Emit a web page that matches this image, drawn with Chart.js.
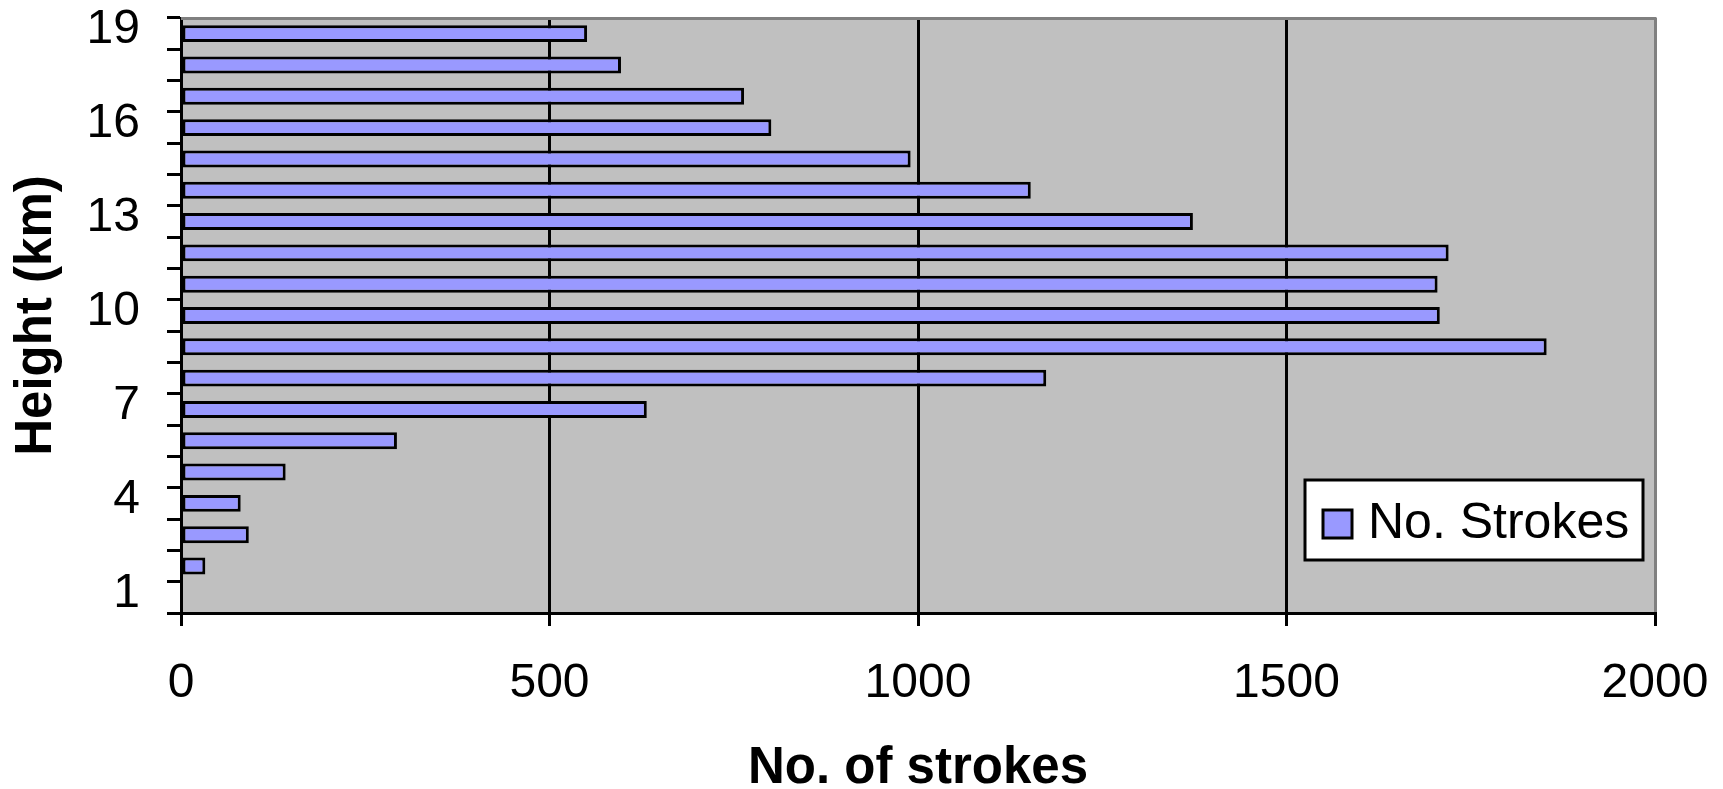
<!DOCTYPE html>
<html>
<head>
<meta charset="utf-8">
<title>Stroke heights</title>
<script src="https://cdn.jsdelivr.net/npm/chart.js@4.4.1/dist/chart.umd.min.js"></script>
<style>
  html, body { margin: 0; padding: 0; background: #ffffff; }
  #wrap { width: 1723px; height: 789px; }
</style>
</head>
<body>
<div id="wrap"><canvas id="strokesChart" width="1723" height="789"></canvas></div>
<script>
// Height bins (km), bottom to top
const heights = ['1', '2', '3', '4', '5', '6', '7', '8', '9', '10',
                 '11', '12', '13', '14', '15', '16', '17', '18', '19'];
// Number of strokes in each height bin
const strokes = [0, 33, 92, 81, 142, 293, 632, 1174, 1853, 1708,
                 1705, 1720, 1373, 1153, 990, 801, 764, 597, 551];
// Height labels written along the axis
const shownHeights = ['1', '4', '7', '10', '13', '16', '19'];
// Stroke-count axis range and step
const strokeMin = 0;
const strokeMax = 2000;
const strokeStep = 500;
const seriesName = 'No. Strokes';

const FONT = '"Liberation Sans", Arial, Helvetica, sans-serif';
Chart.defaults.font.family = FONT;
Chart.defaults.color = '#000000';

// Grey plot background with the grey frame on top and right
const plotFrame = {
  id: 'plotFrame',
  beforeDraw(chart, args, opts) {
    const { ctx, chartArea: a } = chart;
    ctx.save();
    ctx.fillStyle = opts.fill;
    ctx.fillRect(a.left, a.top, a.right - a.left, a.bottom - a.top);
    ctx.restore();
  },
  beforeDatasetsDraw(chart, args, opts) {
    const { ctx, chartArea: a } = chart;
    ctx.save();
    ctx.strokeStyle = opts.frame;
    ctx.lineWidth = 3;
    ctx.beginPath();
    ctx.moveTo(a.left, a.top + 0.5);
    ctx.lineTo(a.right + 1.5, a.top + 0.5);
    ctx.stroke();
    ctx.restore();
  }
};

// Boxed legend placed inside the plot, lower right
const boxedLegend = {
  id: 'boxedLegend',
  afterDraw(chart, args, opts) {
    const { ctx, chartArea: a } = chart;
    const ds = chart.data.datasets[0];
    const bx = a.right - opts.offsetRight - opts.width;
    const by = a.bottom - opts.offsetBottom - opts.height;
    ctx.save();
    ctx.fillStyle = '#ffffff';
    ctx.fillRect(bx, by, opts.width, opts.height);
    ctx.strokeStyle = '#000000';
    ctx.lineWidth = 3;
    ctx.strokeRect(bx, by, opts.width, opts.height);
    // swatch
    const sx = bx + 18, sy = by + 30, sw = 29, sh = 28;
    ctx.fillStyle = ds.backgroundColor;
    ctx.fillRect(sx, sy, sw, sh);
    ctx.strokeRect(sx, sy, sw, sh);
    // label
    ctx.fillStyle = '#000000';
    ctx.font = '50px ' + FONT;
    ctx.textAlign = 'left';
    ctx.textBaseline = 'alphabetic';
    ctx.fillText(ds.label, bx + 63, by + 58);
    ctx.restore();
  }
};

new Chart(document.getElementById('strokesChart'), {
  type: 'bar',
  data: {
    labels: heights,
    datasets: [{
      label: seriesName,
      data: strokes,
      backgroundColor: '#9999ff',
      borderColor: '#000000',
      borderWidth: 3,
      borderSkipped: false,
      barPercentage: 0.54,
      categoryPercentage: 1.0
    }]
  },
  options: {
    indexAxis: 'y',
    responsive: false,
    animation: false,
    events: [],
    layout: { padding: { top: 18, right: 68, left: 0, bottom: 0 } },
    plugins: {
      legend: { display: false },
      tooltip: { enabled: false },
      plotFrame: { fill: '#c0c0c0', frame: '#808080' },
      boxedLegend: { width: 338, height: 80, offsetRight: 12, offsetBottom: 53 }
    },
    scales: {
      x: {
        type: 'linear',
        min: strokeMin,
        max: strokeMax,
        ticks: {
          stepSize: strokeStep,
          color: '#000000',
          font: { size: 48 },
          padding: 29,
          maxRotation: 0,
          callback: (value) => String(value)
        },
        grid: {
          color: (c) => (c.tick && c.tick.value === strokeMax ? '#808080' : '#000000'),
          lineWidth: 3,
          tickLength: 13,
          tickColor: '#000000',
          tickWidth: 3
        },
        border: { color: '#000000', width: 3 },
        title: {
          display: true,
          text: 'No. of strokes',
          color: '#000000',
          font: { size: 51, weight: 'bold', lineHeight: 0.8 },
          padding: 0
        },
        afterFit(scale) {
          scale.height = 176;
          scale.paddingLeft = 0;
          scale.paddingRight = 0;
        }
      },
      y: {
        type: 'category',
        reverse: true,
        offset: true,
        ticks: {
          autoSkip: false,
          color: '#000000',
          font: { size: 48 },
          padding: 27,
          labelOffset: -4,
          callback: (value) => (shownHeights.includes(heights[value]) ? heights[value] : '')
        },
        grid: {
          drawOnChartArea: false,
          offset: true,
          lineWidth: 3,
          tickLength: 14,
          tickColor: '#000000',
          tickWidth: 3
        },
        border: { color: '#000000', width: 3 },
        title: {
          display: true,
          text: 'Height (km)',
          color: '#000000',
          font: { size: 51, weight: 'bold' },
          padding: { top: 6, bottom: 0 }
        },
        afterFit(scale) {
          scale.width = 181;
          scale.paddingTop = 0;
          scale.paddingBottom = 0;
        }
      }
    }
  },
  plugins: [plotFrame, boxedLegend]
});
</script>
</body>
</html>
